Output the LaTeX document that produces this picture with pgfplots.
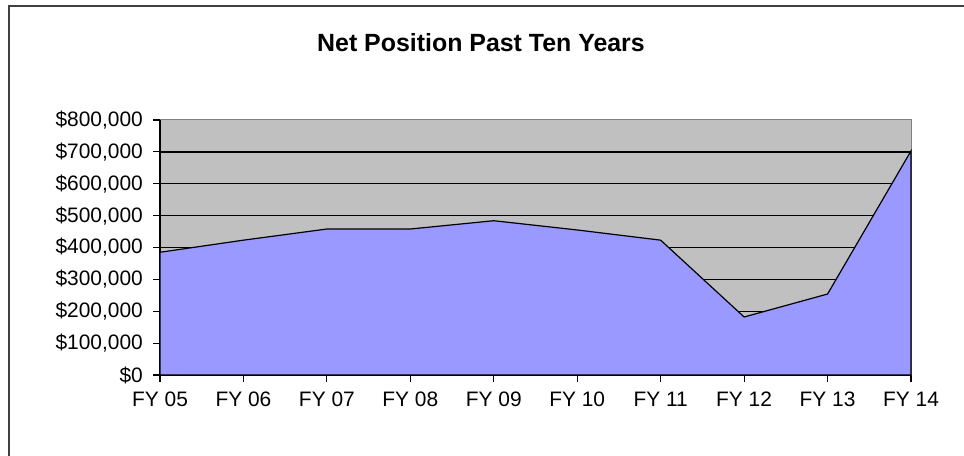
\documentclass[border=0pt]{standalone}
\usepackage{pgfplots}
\pgfplotsset{compat=1.18}
\usepackage{fontspec}
\setmainfont{Liberation Sans}
\definecolor{plotgray}{HTML}{C0C0C0}
\definecolor{areablue}{HTML}{9999FF}
\definecolor{framegray}{HTML}{808080}
\newcommand{\topLabel}{\$800,000}
\begin{document}
\begin{tikzpicture}[x=1bp,y=1bp]
\path[use as bounding box] (0,0) rectangle (964,456);
\draw[line width=1.6bp, black!75] (9,0) -- (9,450) -- (964,450);
\node[font=\fontsize{25}{28}\selectfont\bfseries, anchor=base] at (481,404) {Net Position Past Ten Years};
\begin{axis}[
  at={(160bp,81bp)}, anchor=south west,
  scale only axis, width=751bp, height=255bp,
  xmin=0, xmax=9, ymin=0, ymax=800000,
  axis background/.style={fill=plotgray, draw=framegray, line width=1bp},
  axis x line*=bottom, axis y line*=left,
  axis line style={black, line width=1.8bp, -},
  xtick={0,...,9},
  xticklabels={FY 05,FY 06,FY 07,FY 08,FY 09,FY 10,FY 11,FY 12,FY 13,FY 14},
  ytick={0,100000,200000,300000,400000,500000,600000,700000},
  yticklabels={{\$0},{\$100,000},{\$200,000},{\$300,000},{\$400,000},{\$500,000},{\$600,000},{\$700,000}},
  extra y ticks={800000},
  extra y tick labels={\topLabel},
  extra y tick style={grid=none},
  scaled y ticks=false,
  ymajorgrids,
  major grid style={black, line width=1.3bp},
  tick align=outside,
  major tick length=7bp,
  tick style={black, line width=1.2bp},
  ticklabel style={font=\fontsize{21}{24}\selectfont},
  yticklabel style={inner sep=0bp, xshift=-10bp},
  xticklabel style={inner sep=0bp, yshift=-10bp},
  clip=false,
]
\addplot[fill=areablue, draw=black, line width=1.2bp] coordinates {
  (0,385000) (1,423000) (2,458000) (3,458000) (4,484000)
  (5,455000) (6,423000) (7,182000) (8,254000) (9,703000)
} \closedcycle;
\end{axis}
\end{tikzpicture}
\end{document}
